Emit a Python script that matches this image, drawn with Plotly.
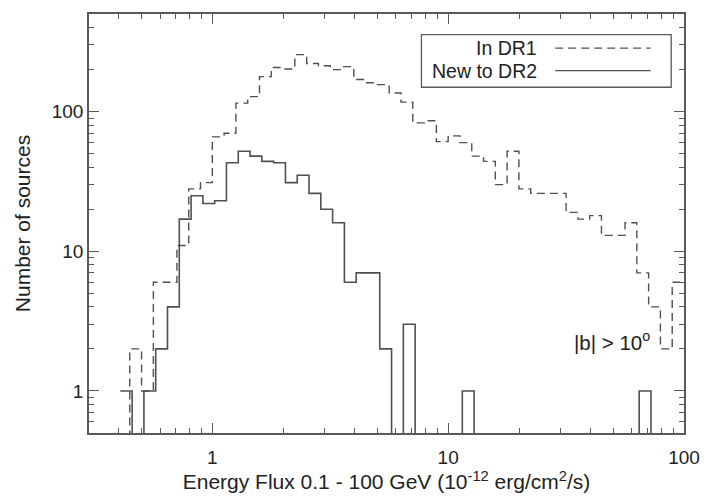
import numpy as np
import plotly.graph_objects as go

# Histogram bins: log10(flux) bin index k, bin width 0.05 dex
bin_width_dex = 0.05
bin_start_k = -8  # first bin left edge at 10**(-0.40)

# "In DR1" counts (dashed), bins k=-8 .. 39
dr1_counts = [0, 2, 1, 6, 6, 11, 28, 31, 66, 70, 115, 128, 178, 207, 202, 256,
              221, 213, 200, 210, 170, 161, 156, 136, 117, 83, 86, 61, 67, 60,
              48, 44, 30, 52, 28, 26, 26, 26, 19, 17, 18, 13, 13, 16, 7, 4, 2, 6]

# "New to DR2" counts (solid), bins k=-8 .. 39
dr2_counts = [1, 0, 1, 2, 4, 17, 25, 22, 23, 43, 52, 48, 44, 43, 31, 35,
              26, 20, 16, 6, 7, 7, 2, 0, 3, 0, 0, 0, 0, 1,
              0, 0, 0, 0, 0, 0, 0, 0, 0, 0, 0, 0, 0, 0, 1, 0, 0, 0]

dr1_offset_dex = 0.0
dr2_offset_dex = 0.01

x_ticks = [1, 10, 100]
y_ticks = [1, 10, 100]

LINE = "#505050"
AXIS = "#5a5a5a"
TEXT = "#222222"
FONT = "Liberation Sans"


def step_xy(counts, offset):
    n = len(counts)
    k = np.arange(bin_start_k, bin_start_k + n + 1)
    edges = 10 ** (k * bin_width_dex + offset)
    vals = np.array(counts, dtype=float)
    vals = np.where(vals > 0, vals, 0.1)  # zero bins drop below the axis floor
    y = np.append(vals, vals[-1])
    return edges, y


fig = go.Figure()
x1, y1 = step_xy(dr1_counts, dr1_offset_dex)
fig.add_trace(go.Scatter(x=x1, y=y1, mode="lines", line_shape="hv",
                         line=dict(color=LINE, width=1.4, dash="8px,5px"),
                         name="In DR1", showlegend=False))
x2, y2 = step_xy(dr2_counts, dr2_offset_dex)
fig.add_trace(go.Scatter(x=x2, y=y2, mode="lines", line_shape="hv",
                         line=dict(color=LINE, width=1.6),
                         name="New to DR2", showlegend=False))

axis_common = dict(
    type="log", showgrid=False, zeroline=False,
    showline=True, linecolor=AXIS, linewidth=1.5, mirror="allticks",
    ticks="inside", ticklen=10, tickwidth=1.2, tickcolor=AXIS,
    tickfont=dict(family=FONT, size=19, color=TEXT),
    minor=dict(ticks="inside", ticklen=5, tickwidth=1, tickcolor=AXIS,
               dtick="D1", showgrid=False),
)

fig.update_layout(
    width=712, height=496,
    margin=dict(l=89, r=18, t=12, b=55),
    paper_bgcolor="white", plot_bgcolor="white",
    font=dict(family=FONT, color=TEXT),
    xaxis=dict(range=[np.log10(0.3), 2], tickvals=x_ticks,
               ticktext=[str(v) for v in x_ticks], ticklabelstandoff=6,
               title=dict(text="Energy Flux 0.1 - 100 GeV (10<sup>-12</sup> erg/cm<sup>2</sup>/s)",
                          font=dict(family=FONT, size=21, color=TEXT), standoff=2),
               **axis_common),
    yaxis=dict(range=[np.log10(0.5), np.log10(500)], tickvals=y_ticks,
               ticktext=[str(v) for v in y_ticks],
               title=dict(text="Number of sources",
                          font=dict(family=FONT, size=21, color=TEXT), standoff=15),
               **axis_common),
    showlegend=False,
)

# custom legend (text on the left of the line sample, as in the original)
fig.add_shape(type="rect", xref="paper", yref="paper",
              x0=0.5587, x1=0.9785, y0=0.8252, y1=0.951,
              line=dict(color=AXIS, width=1.3), fillcolor="white")
legend_rows = [("In DR1", 0.9184, "8px,5px"), ("New to DR2", 0.8648, "solid")]
for label, yy, dash in legend_rows:
    fig.add_shape(type="line", xref="paper", yref="paper",
                  x0=0.7835, x1=0.9438, y0=yy, y1=yy,
                  line=dict(color=LINE, width=1.3, dash=dash))
    fig.add_annotation(xref="paper", yref="paper", x=0.757, y=yy, text=label,
                       showarrow=False, xanchor="right", yanchor="middle",
                       font=dict(family=FONT, size=19.5, color=TEXT))

fig.add_annotation(xref="paper", yref="paper", x=0.8116, y=0.219,
                   text="|b| > 10<sup>o</sup>", showarrow=False,
                   xanchor="left", yanchor="middle",
                   font=dict(family=FONT, size=20.5, color=TEXT))

fig.write_html("out.html")
